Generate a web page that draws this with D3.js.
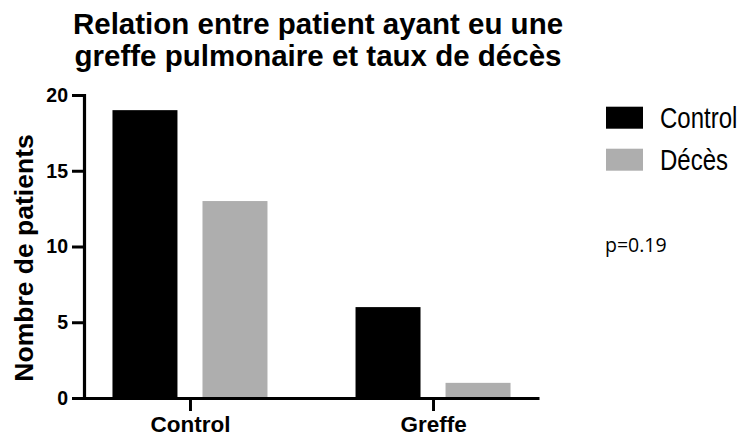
<!DOCTYPE html>
<html>
<head>
<meta charset="utf-8">
<script src="https://cdn.jsdelivr.net/npm/d3@7"></script>
<style>
  html, body { margin: 0; padding: 0; background: #fff; }
  svg { display: block; }
  text { font-family: "Liberation Sans", Arial, Helvetica, sans-serif; fill: #000; }
</style>
</head>
<body>
<svg id="chart" width="741" height="439"></svg>
<script>
const titleLines = ["Relation entre patient ayant eu une", "greffe pulmonaire et taux de décès"];
const categories = ["Control", "Greffe"];
const seriesNames = ["Control", "Décès"];
const controlValues = [19, 6];
const decesValues = [13, 1];
const yTicks = [0, 5, 10, 15, 20];
const yLabel = "Nombre de patients";
const pValueLabel = "p=0.19";
const seriesColors = ["#000000", "#aeaeae"];

const svg = d3.select("#chart");

const data = categories.map((c, i) => ({
  category: c,
  values: [
    { series: seriesNames[0], value: controlValues[i] },
    { series: seriesNames[1], value: decesValues[i] }
  ]
}));

const x0 = d3.scalePoint().domain(categories).range([84, 539]).padding(0.436);
const x1 = d3.scaleBand().domain(seriesNames).range([-77.5, 77.5]).paddingInner(0.278).paddingOuter(0);
const y = d3.scaleLinear().domain([0, 20]).range([398, 95]);
const color = d3.scaleOrdinal().domain(seriesNames).range(seriesColors);

// Bars
const groups = svg.append("g").selectAll("g")
  .data(data).join("g")
  .attr("transform", d => `translate(${x0(d.category)},0)`);
groups.selectAll("rect")
  .data(d => d.values).join("rect")
  .attr("x", d => x1(d.series))
  .attr("width", x1.bandwidth())
  .attr("y", d => y(d.value))
  .attr("height", d => y(0) - y(d.value))
  .attr("fill", d => color(d.series));

// Y axis
const yAxis = svg.append("g")
  .attr("transform", "translate(84,0)")
  .call(d3.axisLeft(y).tickValues(yTicks).tickSize(12).tickSizeOuter(0).tickPadding(4));
yAxis.select(".domain").attr("stroke", "#000").attr("stroke-width", 3.2).attr("stroke-linecap", "square");
yAxis.selectAll(".tick line").attr("stroke", "#000").attr("stroke-width", 3);
yAxis.selectAll(".tick text")
  .style("font-family", "'Liberation Sans', Arial, sans-serif")
  .style("font-weight", "bold").style("font-size", "19.5px").attr("fill", "#000");

// X axis
const xAxis = svg.append("g")
  .attr("transform", "translate(0,398)")
  .call(d3.axisBottom(x0).tickSize(13).tickSizeOuter(0).tickPadding(5));
xAxis.select(".domain").attr("stroke", "#000").attr("stroke-width", 3.2);
xAxis.selectAll(".tick line").attr("stroke", "#000").attr("stroke-width", 3);
xAxis.selectAll(".tick text")
  .style("font-family", "'Liberation Sans', Arial, sans-serif")
  .style("font-weight", "bold").style("font-size", "22.5px").attr("fill", "#000")
  .attr("dy", null).attr("y", 33.5);

// Y label
svg.append("text")
  .attr("transform", "translate(33,258) rotate(-90)")
  .attr("text-anchor", "middle")
  .style("font-weight", "bold").style("font-size", "26.5px")
  .text(yLabel);

// Title
svg.append("g").selectAll("text")
  .data(titleLines).join("text")
  .attr("x", 318)
  .attr("y", (d, i) => 34 + i * 32)
  .attr("text-anchor", "middle")
  .style("font-weight", "bold").style("font-size", "29.5px")
  .text(d => d);

// Legend
const legend = svg.append("g").selectAll("g")
  .data(seriesNames).join("g")
  .attr("transform", (d, i) => `translate(606,${106.7 + i * 42})`);
legend.append("rect")
  .attr("width", 37).attr("height", 22)
  .attr("fill", d => color(d));
legend.append("text")
  .attr("transform", "translate(54,21.5) scale(1,1.2)")
  .style("font-size", "24px")
  .text(d => d);

// p-value annotation
svg.append("text")
  .attr("x", 605).attr("y", 252)
  .style("font-family", "'Open Sans', sans-serif")
  .style("font-size", "19.5px")
  .text(pValueLabel);
</script>
</body>
</html>
